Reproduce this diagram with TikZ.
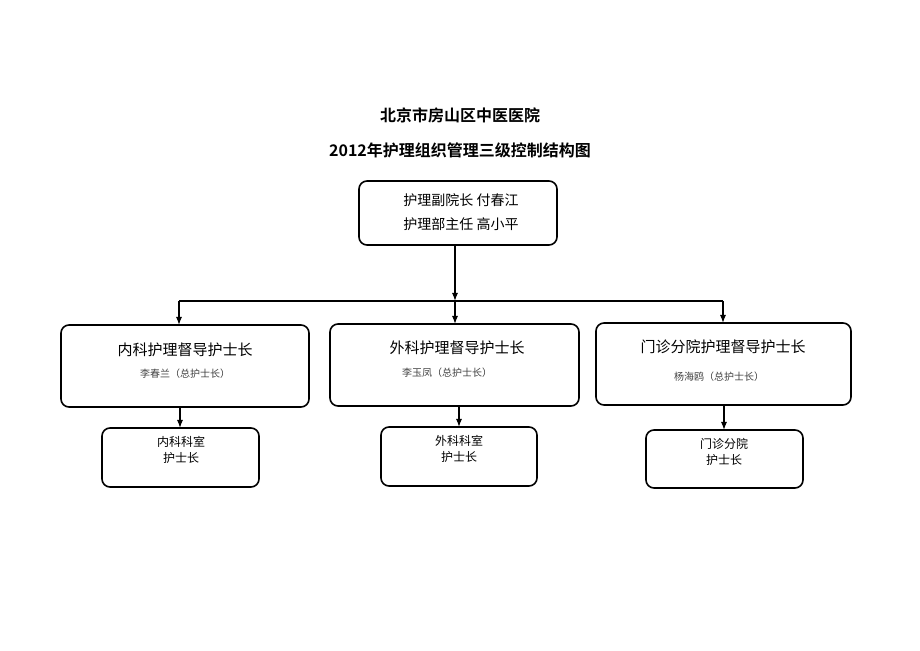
\documentclass[tikz,border=0pt]{standalone}
\usepackage{fontspec}
\newfontfamily\cjk{Noto Sans CJK SC}
\newfontfamily\cjkb{Noto Sans CJK SC Bold}
\usetikzlibrary{arrows.meta}
\tikzset{
  box/.style={draw, thick, rounded corners=4pt, inner sep=0pt},
  link/.style={-{Latex[length=4pt,width=3pt]}, semithick},
}
\begin{document}
\begin{tikzpicture}[x=0.5pt, y=-0.5pt]
\useasboundingbox (0,0) rectangle (920,651);

% titles
\node[font=\cjkb\fontsize{8}{8}\selectfont] (title) at (460,115) {北京市房山区中医医院};
\node[font=\cjkb\fontsize{8}{8}\selectfont] (sub) at (460,150) {2012年护理组织管理三级控制结构图};

% top box
\draw[box] (359,181) rectangle (557,245);
\coordinate (top) at (455,245);
\node[font=\cjk\fontsize{7}{7}\selectfont, align=left] (dean) at (461,212)
  {护理副院长\ 付春江\\[5pt]护理部主任\ 高小平};

% middle boxes
\draw[box] (61,325) rectangle (309,407);
\draw[box] (330,324) rectangle (579,406);
\draw[box] (596,323) rectangle (851,405);
\node[font=\cjk\fontsize{7.5}{7.5}\selectfont] (m1) at (185,350) {内科护理督导护士长};
\node[font=\cjk\fontsize{7.5}{7.5}\selectfont] (m2) at (457,348) {外科护理督导护士长};
\node[font=\cjk\fontsize{7.5}{7.5}\selectfont] (m3) at (723,347) {门诊分院护理督导护士长};
\node[font=\cjk\fontsize{5}{5}\selectfont, text=black!75] (n1) at (185,374) {李春兰（总护士长）};
\node[font=\cjk\fontsize{5}{5}\selectfont, text=black!75] (n2) at (447,373) {李玉凤（总护士长）};
\node[font=\cjk\fontsize{5}{5}\selectfont, text=black!75] (n3) at (719,377) {杨海鸥（总护士长）};

% bottom boxes
\draw[box] (102,428) rectangle (259,487);
\draw[box] (381,427) rectangle (537,486);
\draw[box] (646,430) rectangle (803,488);
\node[font=\cjk\fontsize{6}{6}\selectfont, align=center] (b1) at (181,450) {内科科室\\[2pt]护士长};
\node[font=\cjk\fontsize{6}{6}\selectfont, align=center] (b2) at (459,449) {外科科室\\[2pt]护士长};
\node[font=\cjk\fontsize{6}{6}\selectfont, align=center] (b3) at (724,452) {门诊分院\\[2pt]护士长};

% connectors
\coordinate (bus) at (455,301);
\coordinate (busL) at (179,301);
\coordinate (busR) at (723,301);
\draw[link] (top) -- (bus);
\draw[semithick] (busL) -- (busR);
\draw[link] (busL) -- (179,325);
\draw[link] (bus) -- (455,324);
\draw[link] (busR) -- (723,323);
\draw[link] (180,407) -- (180,428);
\draw[link] (459,406) -- (459,427);
\draw[link] (724,405) -- (724,430);
\end{tikzpicture}
\end{document}
